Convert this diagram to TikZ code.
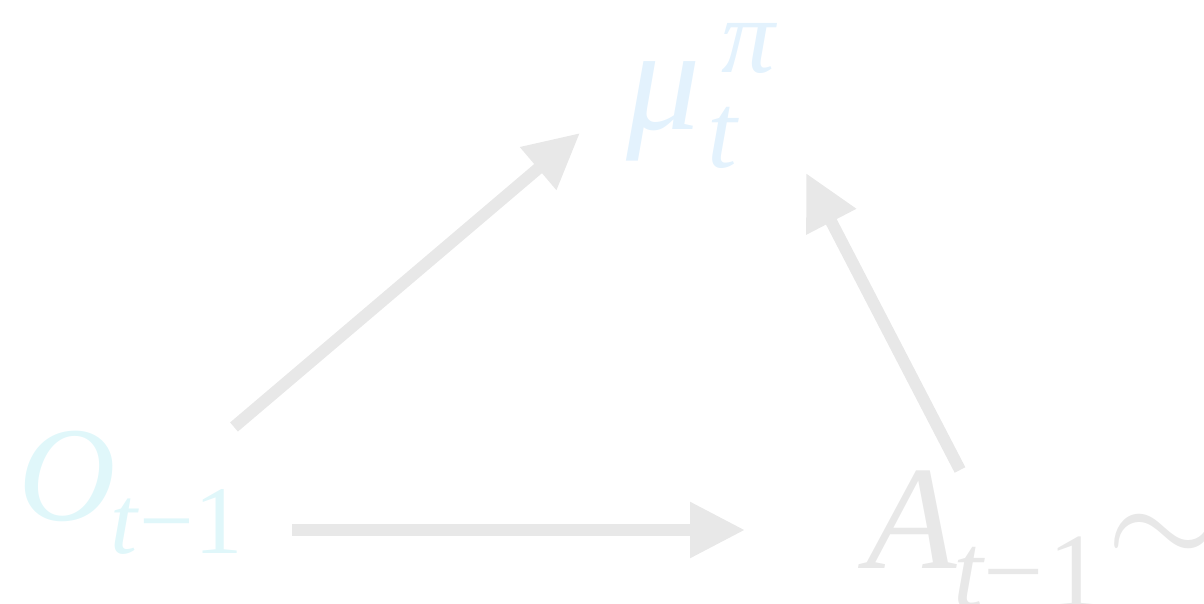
\documentclass[tikz,border=0pt]{standalone}
\usepackage{fontspec}
\usepackage{graphicx}
\setmainfont{Liberation Serif}
\usetikzlibrary{arrows.meta}
\definecolor{mublue}{HTML}{E3F2FD}
\definecolor{ocyan}{HTML}{E0F7FA}
\definecolor{agray}{HTML}{E8E8E8}
\newcommand\bigO{\fontsize{135}{160}\selectfont}
\newcommand\subO{\fontsize{97}{110}\selectfont}
\newcommand\bigA{\fontsize{148}{170}\selectfont}
\newcommand\subA{\fontsize{107}{120}\selectfont}
\newcommand\bigsim{\scalebox{14.8}{\fontsize{10}{12}\selectfont$\sim$}}
\tikzset{
  lab/.style={inner sep=0pt, anchor=base west},
  arr/.style={draw=agray, line width=12pt, -{Triangle[length=55pt,width=53pt]}}
}
\begin{document}
\begin{tikzpicture}[x=1pt,y=1pt]
\path[use as bounding box, clip] (0,0) rectangle (1204,603);
\node[lab, text=ocyan, font=\bigO] (O) at (18,83)
  {\textit{O}\raisebox{-33pt}{\subO\kern-5pt\textit{t}−1}};
\node[lab, text=mublue, font=\bigA] (mu) at (626,473)
  {\textit{μ}\rlap{\kern7pt\raisebox{-38pt}{\subA\textit{t}}}\kern21pt\raisebox{57pt}{\subA\textit{π}}};
\node[lab, text=agray, font=\bigA] (A) at (866,35)
  {\textit{A}\raisebox{-39pt}{\subA\kern-4pt\textit{t}\kern-1pt −\kern4pt 1}\kern5pt\bigsim};
\draw[arr] ([shift={(216,93)}]O.base west) -- ([shift={(-46,-3)}]mu.base west);
\draw[arr] ([shift={(94,98)}]A.base west) -- ([shift={(180,-43)}]mu.base west);
\draw[arr] ([shift={(274,-10)}]O.base west) -- ([shift={(-121,38)}]A.base west);
\end{tikzpicture}
\end{document}
